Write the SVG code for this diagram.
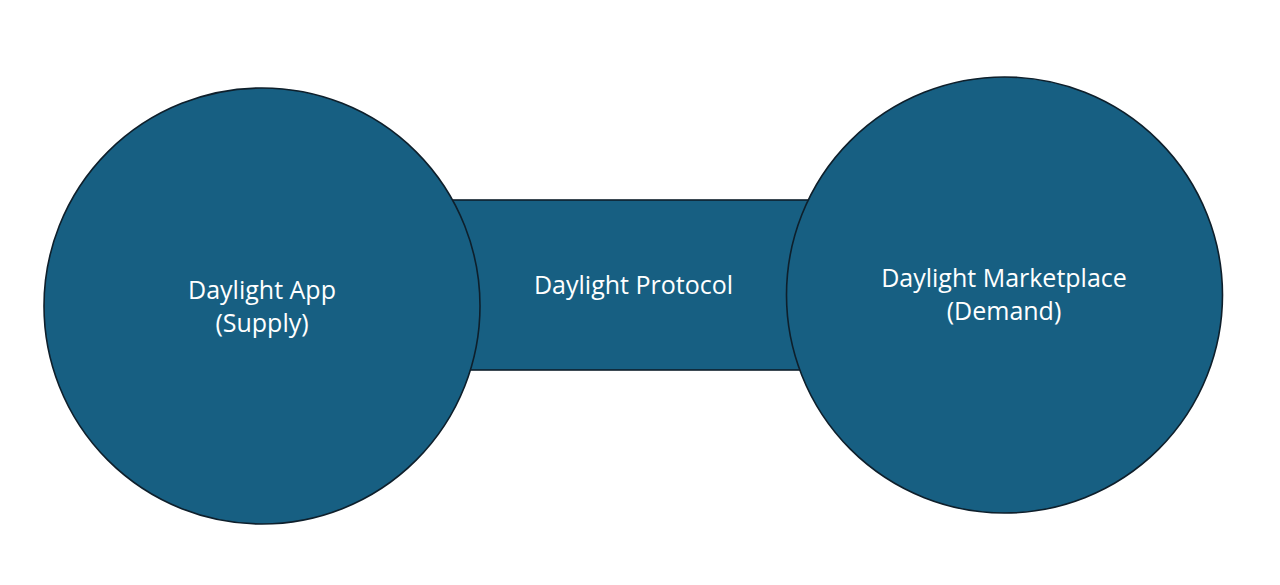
<svg xmlns="http://www.w3.org/2000/svg" width="1280" height="585" viewBox="0 0 1280 585">
<style>
.shape{fill:#175f82;stroke:#0e1f2b;stroke-width:1.6}
.lbl{font-family:"Open Sans","Liberation Sans",sans-serif;font-size:25px;fill:#ffffff;text-anchor:middle}
</style>
<rect width="1280" height="585" fill="#ffffff"/>
<g id="connectors">
<g id="protocol">
<rect class="shape" x="430" y="200" width="390" height="170"/>
<text class="lbl" x="633.5" y="294">Daylight Protocol</text>
</g>
</g>
<g id="app">
<circle class="shape" cx="262" cy="306" r="218"/>
<text class="lbl" x="262" y="299">Daylight App</text>
<text class="lbl" x="262" y="332">(Supply)</text>
</g>
<g id="marketplace">
<circle class="shape" cx="1004.5" cy="295" r="218"/>
<text class="lbl" x="1004" y="287">Daylight Marketplace</text>
<text class="lbl" x="1004" y="320">(Demand)</text>
</g>
</svg>
